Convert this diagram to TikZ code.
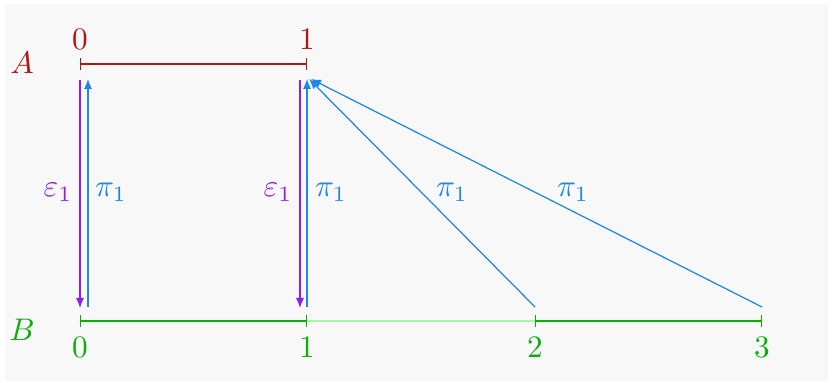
\documentclass[tikz,border=0pt]{standalone}
\usetikzlibrary{arrows.meta}
\definecolor{cA}{RGB}{180,20,20}
\definecolor{cB}{RGB}{10,175,10}
\definecolor{cBl}{RGB}{175,240,175}
\definecolor{cPi}{RGB}{30,136,229}
\definecolor{cEp}{RGB}{140,30,245}
\definecolor{bg}{RGB}{248,248,248}
\tikzset{
  seg/.style={line width=0.9pt, {Bar[width=4pt,line width=0.45pt]}-{Bar[width=4pt,line width=0.45pt]}},
  pimap/.style={cPi, line width=0.4pt, -{Latex[length=3.2pt,width=2.6pt]}},
  epmap/.style={cEp, line width=0.4pt, -{Latex[length=3.2pt,width=2.6pt]}},
  lab/.style={inner sep=0pt}
}
\begin{document}
\begin{tikzpicture}[x=0.32pt,y=-0.32pt]
\useasboundingbox (0,0) rectangle (838,383);
\fill[bg] (5,4) rectangle (828,381);
% A
\coordinate (a0) at (80,64);
\coordinate (a1) at (307,64);
\draw[seg,cA] (a0) -- (a1);
\node[lab,cA] (la0) at (80,39) {$0$};
\node[lab,cA] (la1) at (307,39) {$1$};
\node[lab,cA] (lA) at (22,63) {$A$};
% B
\coordinate (b0) at (80,321);
\coordinate (b1) at (307,321);
\coordinate (b2) at (535,321);
\coordinate (b3) at (762,321);
\draw[cBl,line width=0.35pt] (b1) -- (b2);
\draw[seg,cB] (b0) -- (b1);
\draw[seg,cB] (b2) -- (b3);
\node[lab,cB] (lb0) at (80,347) {$0$};
\node[lab,cB] (lb1) at (307,347) {$1$};
\node[lab,cB] (lb2) at (535,347) {$2$};
\node[lab,cB] (lb3) at (762,347) {$3$};
\node[lab,cB] (lB) at (22,330) {$B$};
% maps
\coordinate (e0s) at (80,80);   \coordinate (e0t) at (80,308);
\coordinate (p0s) at (88,307);  \coordinate (p0t) at (88,79);
\coordinate (e1s) at (300,80);  \coordinate (e1t) at (300,308);
\coordinate (p1s) at (307,307); \coordinate (p1t) at (307,79);
\coordinate (p2s) at (535,307); \coordinate (p2t) at (309,79);
\coordinate (p3s) at (762,307); \coordinate (p3t) at (311,79);
\draw[epmap] (e0s) -- (e0t);
\draw[pimap] (p0s) -- (p0t);
\draw[epmap] (e1s) -- (e1t);
\draw[pimap] (p1s) -- (p1t);
\draw[pimap] (p2s) -- (p2t);
\draw[pimap] (p3s) -- (p3t);
\node[lab,cEp] (le0) at (58,192) {$\varepsilon_1$};
\node[lab,cPi] (lp0) at (111,192) {$\pi_1$};
\node[lab,cEp] (le1) at (278,192) {$\varepsilon_1$};
\node[lab,cPi] (lp1) at (331,192) {$\pi_1$};
\node[lab,cPi] (lp2) at (452,192) {$\pi_1$};
\node[lab,cPi] (lp3) at (573,192) {$\pi_1$};
\end{tikzpicture}
\end{document}
